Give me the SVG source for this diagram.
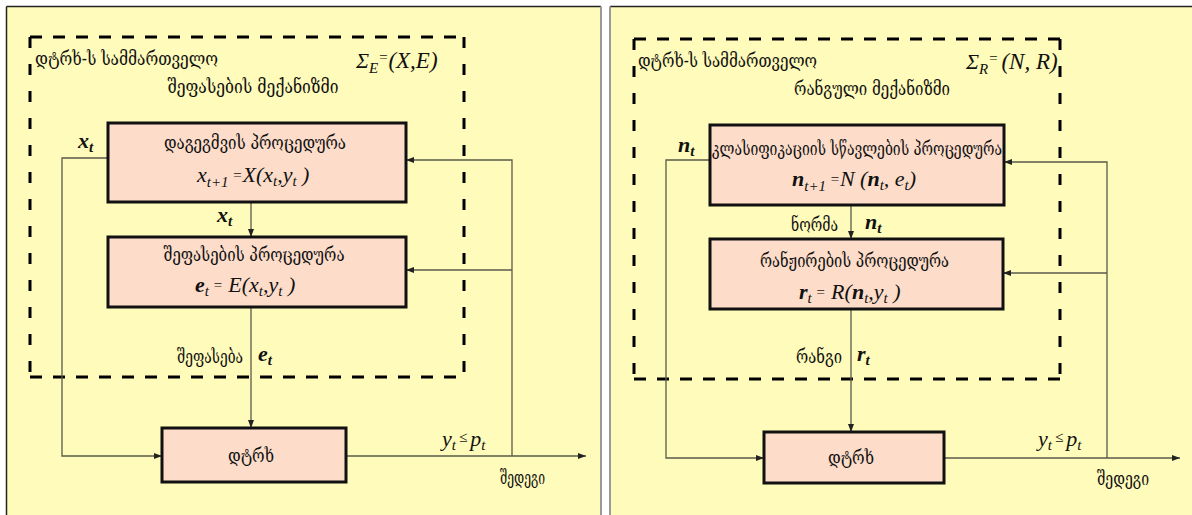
<svg xmlns="http://www.w3.org/2000/svg" width="1192" height="515" viewBox="0 0 1192 515">
  <style>
    .panel { fill: #FFFBBA; }
    .frame { fill: none; stroke: #000; stroke-width: 3; stroke-dasharray: 12 11; }
    .framev { fill: none; stroke: #000; stroke-width: 3; stroke-dasharray: 11 16; }
    .box { fill: #FDDDCA; stroke: #111; stroke-width: 3; }
    .wire { fill: none; stroke: #5a5a4a; stroke-width: 1.3; }
    .geo { font-family: "DejaVu Serif Condensed", "DejaVu Serif", "DejaVu Sans", serif; font-size: 18px; fill: #111; }
    .math { font-family: "Liberation Serif", serif; font-style: italic; font-size: 22px; fill: #111; }
    .sub { font-size: 15px; }
  </style>
  <defs>
    <marker id="arr" viewBox="0 0 8 6" markerWidth="8" markerHeight="6" refX="8" refY="3" orient="auto" markerUnits="userSpaceOnUse">
      <path d="M0,0 L8,3 L0,6 z" fill="#222"/>
    </marker>
  </defs>

  <rect width="1192" height="515" fill="#fff"/>

  <!-- left panel -->
  <g id="panel-left">
    <rect class="panel" x="6" y="6" width="595" height="515"/>
    <line x1="6.5" y1="6.5" x2="601" y2="6.5" stroke="#222" stroke-width="1.5"/>
    <line x1="6.5" y1="6.5" x2="6.5" y2="515" stroke="#222" stroke-width="1.5"/>
    <line x1="601" y1="6.5" x2="601" y2="515" stroke="#9a9a9a" stroke-width="2"/>
  </g>

  <!-- right panel -->
  <g id="panel-right">
    <rect class="panel" x="610" y="6" width="582" height="515"/>
    <line x1="610" y1="6.5" x2="1192" y2="6.5" stroke="#222" stroke-width="1.5"/>
    <line x1="610" y1="6.5" x2="610" y2="515" stroke="#9a9a9a" stroke-width="2"/>
  </g>

  <!-- controller frames -->
  <g id="frame-left">
    <path class="frame" d="M30,37 H464"/>
    <path class="frame" d="M30,377 H464"/>
    <path class="framev" d="M30,37 V377"/>
    <path class="framev" d="M464,37 V377"/>
    <text class="geo" x="35" y="65" textLength="183" lengthAdjust="spacingAndGlyphs">დტრხ-ს სამმართველო</text>
    <text class="math" x="356" y="68" font-size="23">Σ<tspan class="sub" dy="5">E</tspan><tspan class="sub" dy="-11">=</tspan><tspan dy="6" font-size="23">(X,E)</tspan></text>
    <text class="geo" x="253" y="93" text-anchor="middle" textLength="171" lengthAdjust="spacingAndGlyphs">შეფასების მექანიზმი</text>
  </g>

  <g id="frame-right">
    <path class="frame" d="M634,39 H1060"/>
    <path class="frame" d="M634,379 H1060"/>
    <path class="framev" d="M634,39 V379"/>
    <path class="framev" d="M1060,39 V379"/>
    <text class="geo" x="638" y="67" textLength="179" lengthAdjust="spacingAndGlyphs">დტრხ-ს სამმართველო</text>
    <text class="math" x="966" y="69" font-size="23">Σ<tspan class="sub" dy="5">R</tspan><tspan class="sub" dy="-11">=</tspan><tspan dx="3" dy="6" font-size="23">(N, R)</tspan></text>
    <text class="geo" x="872" y="95" text-anchor="middle" textLength="156" lengthAdjust="spacingAndGlyphs">რანგული  მექანიზმი</text>
  </g>

  <!-- connectors -->
  <g id="connectors">
    <path class="wire" d="M108,158 H62 V456 H162" marker-end="url(#arr)"/>
    <path class="wire" d="M251,202 V237" marker-end="url(#arr)"/>
    <path class="wire" d="M251,307 V428" marker-end="url(#arr)"/>
    <path class="wire" d="M346,456 H586" marker-end="url(#arr)"/>
    <path class="wire" d="M512,456 V160 H406" marker-end="url(#arr)"/>
    <path class="wire" d="M512,270 H406" marker-end="url(#arr)"/>

    <path class="wire" d="M710,160 H666 V458 H764" marker-end="url(#arr)"/>
    <path class="wire" d="M851,205 V239" marker-end="url(#arr)"/>
    <path class="wire" d="M851,309 V432" marker-end="url(#arr)"/>
    <path class="wire" d="M944,458 H1180" marker-end="url(#arr)"/>
    <path class="wire" d="M1107,458 V162 H1004" marker-end="url(#arr)"/>
    <path class="wire" d="M1107,273 H1003" marker-end="url(#arr)"/>
  </g>

  <!-- left chain -->
  <g id="planning">
    <rect class="box" x="108" y="123" width="298" height="79"/>
    <text class="geo" x="255" y="149" text-anchor="middle" textLength="182" lengthAdjust="spacingAndGlyphs">დაგეგმვის პროცედურა</text>
    <text class="math" x="197" y="182">x<tspan class="sub" dy="5">t+1</tspan><tspan class="sub" dy="-7"> =</tspan><tspan dy="2">X(x</tspan><tspan class="sub" dy="4">t</tspan><tspan dy="-4">,y</tspan><tspan class="sub" dy="4">t</tspan><tspan dy="-4"> )</tspan></text>
  </g>

  <g id="evaluation">
    <rect class="box" x="108" y="237" width="298" height="70"/>
    <text class="geo" x="254" y="261" text-anchor="middle" textLength="181" lengthAdjust="spacingAndGlyphs">შეფასების პროცედურა</text>
    <text class="math" x="195" y="292"><tspan font-weight="bold">e</tspan><tspan class="sub" dy="4">t</tspan><tspan class="sub" dy="-6"> =</tspan><tspan dy="2"> E(x</tspan><tspan class="sub" dy="4">t</tspan><tspan dy="-4">,y</tspan><tspan class="sub" dy="4">t</tspan><tspan dy="-4"> )</tspan></text>
  </g>

  <g id="object-left">
    <rect class="box" x="162" y="428" width="184" height="54"/>
    <text class="geo" x="251" y="462" text-anchor="middle" textLength="46" lengthAdjust="spacingAndGlyphs">დტრხ</text>
  </g>

  <g id="labels-left">
    <text class="math" x="78" y="148" font-weight="bold">x<tspan class="sub" dy="4">t</tspan></text>
    <text class="math" x="217" y="222" font-weight="bold">x<tspan class="sub" dy="4">t</tspan></text>
    <text class="geo" x="177" y="363" textLength="66" lengthAdjust="spacingAndGlyphs">შეფასება</text>
    <text class="math" x="258" y="361" font-weight="bold">e<tspan class="sub" dy="4">t</tspan></text>
    <text class="math" x="442" y="446">y<tspan class="sub" dy="4">t</tspan><tspan class="sub" dx="3" dy="-8">≤</tspan><tspan dx="3" dy="4">p</tspan><tspan class="sub" dy="4">t</tspan></text>
    <text class="geo" x="500" y="484" textLength="45" lengthAdjust="spacingAndGlyphs">შედეგი</text>
  </g>

  <!-- right chain -->
  <g id="learning">
    <rect class="box" x="710" y="125" width="294" height="80"/>
    <text class="geo" x="712" y="155" textLength="290" lengthAdjust="spacingAndGlyphs">კლასიფიკაციის სწავლების პროცედურა</text>
    <text class="math" x="792" y="186"><tspan font-weight="bold">n</tspan><tspan class="sub" dy="5">t+1</tspan><tspan class="sub" dy="-7"> =</tspan><tspan dy="2">N (</tspan><tspan font-weight="bold">n</tspan><tspan class="sub" dy="4">t</tspan><tspan dy="-4">, e</tspan><tspan class="sub" dy="4">t</tspan><tspan dy="-4">)</tspan></text>
  </g>

  <g id="ranking">
    <rect class="box" x="710" y="239" width="293" height="70"/>
    <text class="geo" x="760" y="267" textLength="189" lengthAdjust="spacingAndGlyphs">რანჟირების  პროცედურა</text>
    <text class="math" x="799" y="299"><tspan font-weight="bold">r</tspan><tspan class="sub" dy="4">t</tspan><tspan class="sub" dy="-6"> =</tspan><tspan dy="2"> R(</tspan><tspan font-weight="bold">n</tspan><tspan class="sub" dy="4">t</tspan><tspan dy="-4">,y</tspan><tspan class="sub" dy="4">t</tspan><tspan dy="-4"> )</tspan></text>
  </g>

  <g id="object-right">
    <rect class="box" x="764" y="432" width="180" height="51"/>
    <text class="geo" x="851" y="464" text-anchor="middle" textLength="46" lengthAdjust="spacingAndGlyphs">დტრხ</text>
  </g>

  <g id="labels-right">
    <text class="math" x="678" y="152" font-weight="bold">n<tspan class="sub" dy="4">t</tspan></text>
    <text class="geo" x="791" y="231" textLength="47" lengthAdjust="spacingAndGlyphs">ნორმა</text>
    <text class="math" x="865" y="229" font-weight="bold">n<tspan class="sub" dy="4">t</tspan></text>
    <text class="geo" x="796" y="363" textLength="46" lengthAdjust="spacingAndGlyphs">რანგი</text>
    <text class="math" x="857" y="361" font-weight="bold">r<tspan class="sub" dy="4">t</tspan></text>
    <text class="math" x="1038" y="446">y<tspan class="sub" dy="4">t</tspan><tspan class="sub" dx="3" dy="-8">≤</tspan><tspan dx="3" dy="4">p</tspan><tspan class="sub" dy="4">t</tspan></text>
    <text class="geo" x="1097" y="485" textLength="52" lengthAdjust="spacingAndGlyphs">შედეგი</text>
  </g>
</svg>
